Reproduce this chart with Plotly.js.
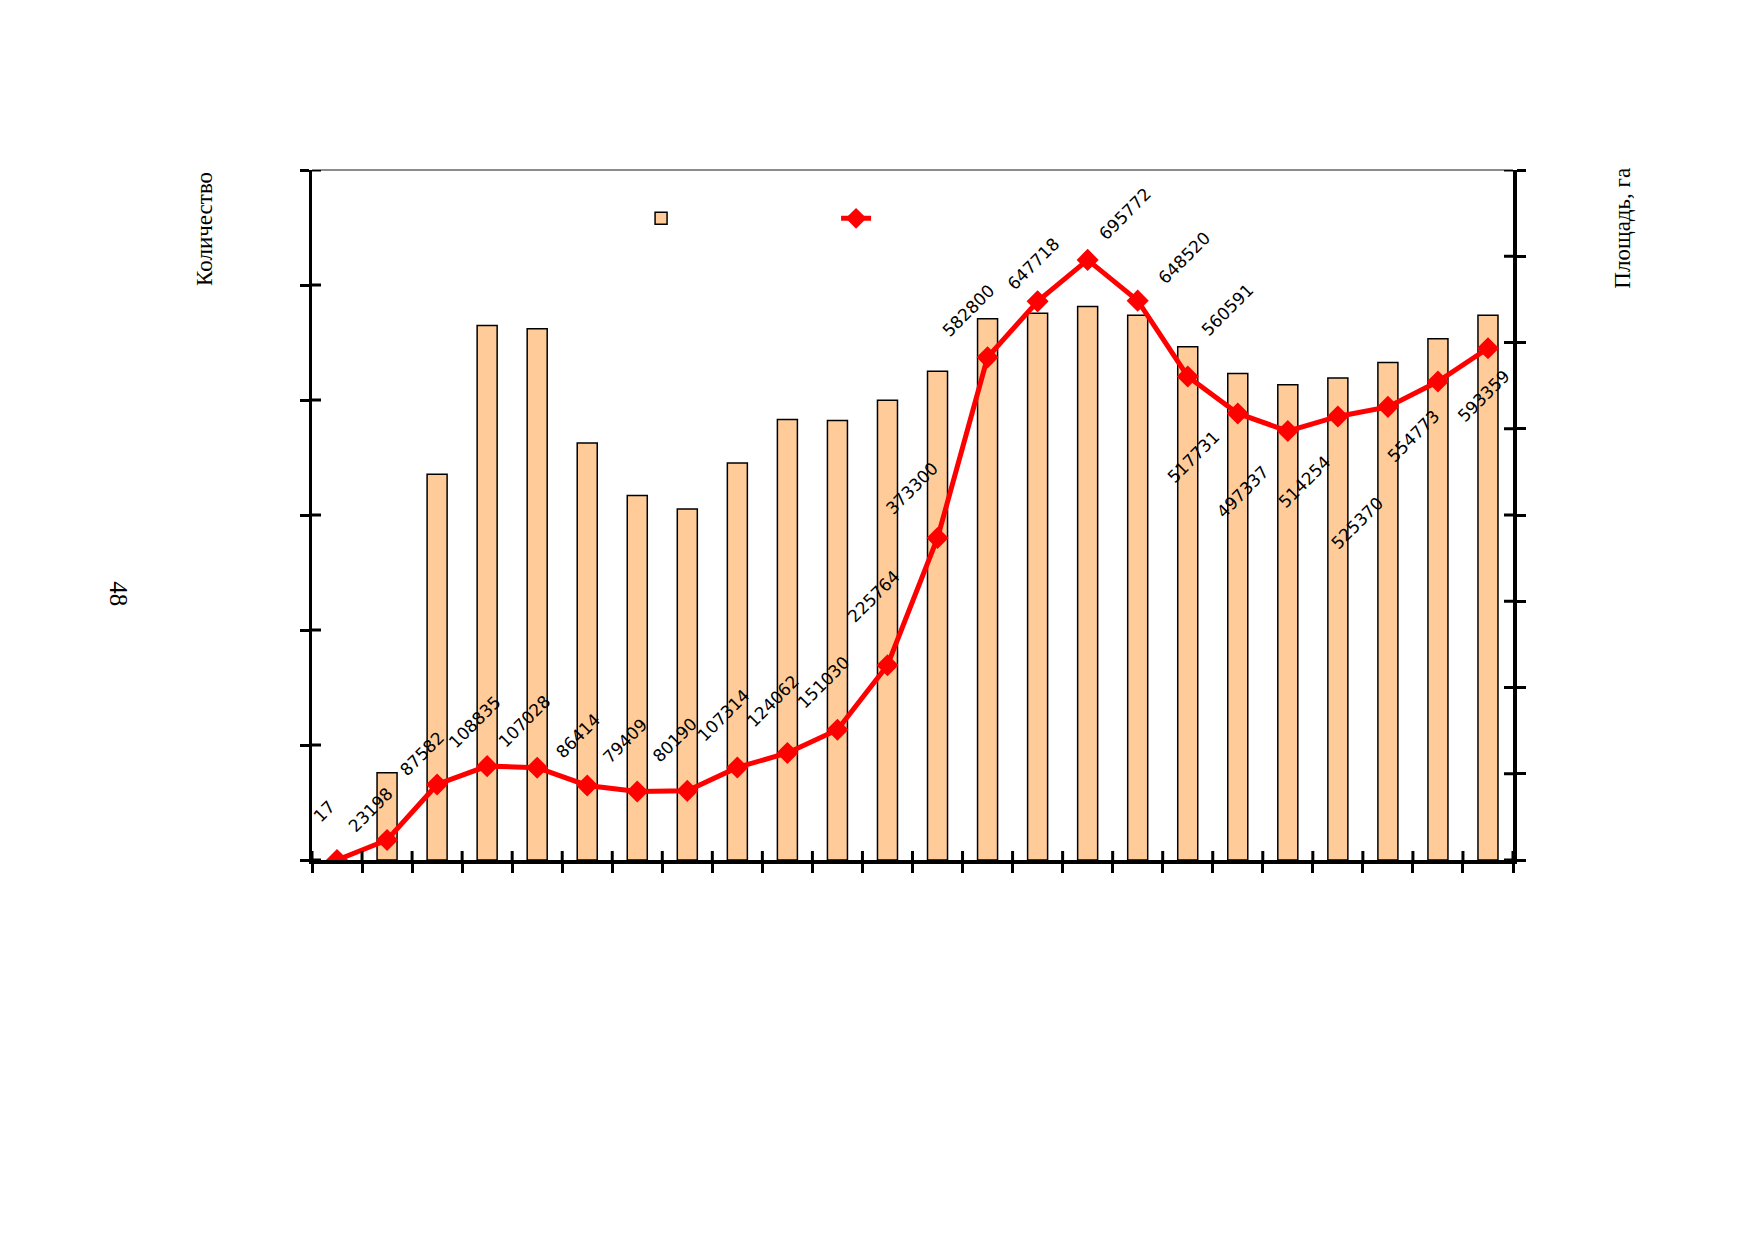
<!DOCTYPE html>
<html>
<head>
<meta charset="utf-8">
<script src="https://cdn.plot.ly/plotly-3.0.1.min.js"></script>
<style>
  html, body { margin: 0; padding: 0; background: #fff; }
  #chart { width: 1754px; height: 1239px; }
</style>
</head>
<body>
<div id="chart"></div>
<script>
// values (no tick labels are printed on the original)
const categories = ["1","2","3","4","5","6","7","8","9","10","11","12",
    "13","14","15","16","17","18","19","20","21","22","23","24"];
const counts = [null, 758, 3355, 4648, 4619, 3627, 3170, 3053, 3452, 3831, 3822, 3997,
    4250, 4707, 4755, 4814, 4736, 4464, 4230, 4133, 4191, 4327, 4532, 4736];
const areas = [17, 23198, 87582, 108835, 107028, 86414, 79409, 80190, 107314, 124062, 151030, 225764,
    373300, 582800, 647718, 695772, 648520, 560591, 517731, 497337, 514254, 525370, 554773, 593359];

// where each value label sits relative to its point (px, lower-left of the rotated box)
const labelDx = [-29, -44, -43, -44, -44, -37, -40, -40, -45, -46, -45, -45,
    -57, -51, -36, 6, 15, 8, -76, -77, -65, -62, -56, -36];
const labelDy = [-33, -2, -3, -13, -15, -22, -23, -23, -21, -21, -16, -38,
    -19, -15, -6, -14, -11, -35, 75, 92, 97, 148, 86, 79];

const leftTitle = "Количество";
const rightTitle = "Площадь, га";
const pageNo = "48";

const countMax = 6000, countStep = 1000;
const areaMax = 800000, areaStep = 100000;

const ink = "#000000";
const serif = "Liberation Serif, Times New Roman, serif";
const tickHalf = 9;

let bars = {
    type: "bar",
    x: categories,
    y: counts,
    name: " ",
    width: 0.4,
    marker: { color: "#FFCC99", line: { color: ink, width: 1.5 } },
    hoverinfo: "skip"
};

let line = {
    type: "scatter",
    mode: "lines+markers",
    x: categories,
    y: areas,
    yaxis: "y2",
    name: " ",
    line: { color: "#FF0000", width: 5 },
    marker: { symbol: "diamond", size: 17, color: "#FF0000" },
    hoverinfo: "skip"
};

// outer half of each tick comes from the axis itself
function baseAxis(extra) {
    let ax = {
        showgrid: false,
        zeroline: false,
        showticklabels: false,
        ticks: "outside",
        ticklen: tickHalf,
        tickwidth: 3,
        tickcolor: ink,
        showline: true,
        linecolor: ink,
        linewidth: 3.5
    };
    return Object.assign(ax, extra);
}

// the original ticks cross the axis lines; plotly only does in/out,
// so the inner half is a pixel-sized line hung on the same axis value
// (shapes on data axes are clipped to the plot area, so only the inner half shows)
function crossTick(xref, yref, xval, yval, vertical) {
    let s = { type: "line", xref: xref, yref: yref, layer: "above",
        line: { color: ink, width: 3 } };
    if (vertical) {
        s.x0 = xval; s.x1 = xval;
        s.ysizemode = "pixel"; s.yanchor = yval; s.y0 = -tickHalf; s.y1 = tickHalf;
    } else {
        s.y0 = yval; s.y1 = yval;
        s.xsizemode = "pixel"; s.xanchor = xval; s.x0 = -tickHalf; s.x1 = tickHalf;
    }
    return s;
}

let shapes = [{
    type: "line", xref: "paper", yref: "paper",
    x0: 0, x1: 1, y0: 1, y1: 1,
    line: { color: "#8c8c8c", width: 2 }
}];
let firstEdge = -0.5, lastEdge = categories.length - 0.5;
for (let b = firstEdge; b <= lastEdge; b++) {
    shapes.push(crossTick("x", "y", b, 0, true));
}
for (let v = 0; v <= countMax; v += countStep) {
    shapes.push(crossTick("x", "y", firstEdge, v, false));
}
for (let v = 0; v <= areaMax; v += areaStep) {
    shapes.push(crossTick("x", "y2", lastEdge, v, false));
}

let annotations = [];
for (let i = 0; i < areas.length; i++) {
    annotations.push({
        x: i,
        y: areas[i],
        xref: "x",
        yref: "y2",
        text: String(areas[i]),
        showarrow: false,
        textangle: -45,
        xanchor: "left",
        yanchor: "bottom",
        xshift: labelDx[i],
        yshift: -labelDy[i],
        borderpad: 0,
        font: { family: "DejaVu Sans, Verdana, sans-serif", size: 17, color: "#000" }
    });
}
annotations.push({
    text: leftTitle, xref: "paper", yref: "paper", x: -0.09, y: 1.0,
    xanchor: "center", yanchor: "top", textangle: -90, showarrow: false,
    font: { family: serif, size: 23, color: ink }
});
annotations.push({
    text: rightTitle, xref: "paper", yref: "paper", x: 1.091, y: 1.006,
    xanchor: "center", yanchor: "top", textangle: -90, showarrow: false,
    font: { family: serif, size: 23, color: ink }
});
annotations.push({
    text: pageNo, xref: "paper", yref: "paper", x: -0.1607, y: 0.385,
    xanchor: "center", yanchor: "middle", textangle: 90, showarrow: false,
    font: { family: serif, size: 25, color: ink }
});

let layout = {
    width: 1754,
    height: 1239,
    paper_bgcolor: "#fff",
    plot_bgcolor: "#fff",
    margin: { l: 312, r: 241, t: 170, b: 379, pad: 0 },
    showlegend: true,
    legend: {
        orientation: "h",
        x: 0.274, xanchor: "left",
        y: 0.93, yanchor: "middle",
        entrywidth: 150,
        bgcolor: "rgba(0,0,0,0)",
        font: { size: 12 }
    },
    bargap: 0.6,
    xaxis: baseAxis({
        type: "category",
        range: [firstEdge, lastEdge],
        tickson: "boundaries"
    }),
    yaxis: baseAxis({
        range: [0, countMax], dtick: countStep
    }),
    yaxis2: baseAxis({
        overlaying: "y", side: "right", anchor: "x",
        range: [0, areaMax], dtick: areaStep
    }),
    shapes: shapes,
    annotations: annotations
};

Plotly.newPlot("chart", [bars, line], layout, { staticPlot: true, displayModeBar: false });
</script>
</body>
</html>
